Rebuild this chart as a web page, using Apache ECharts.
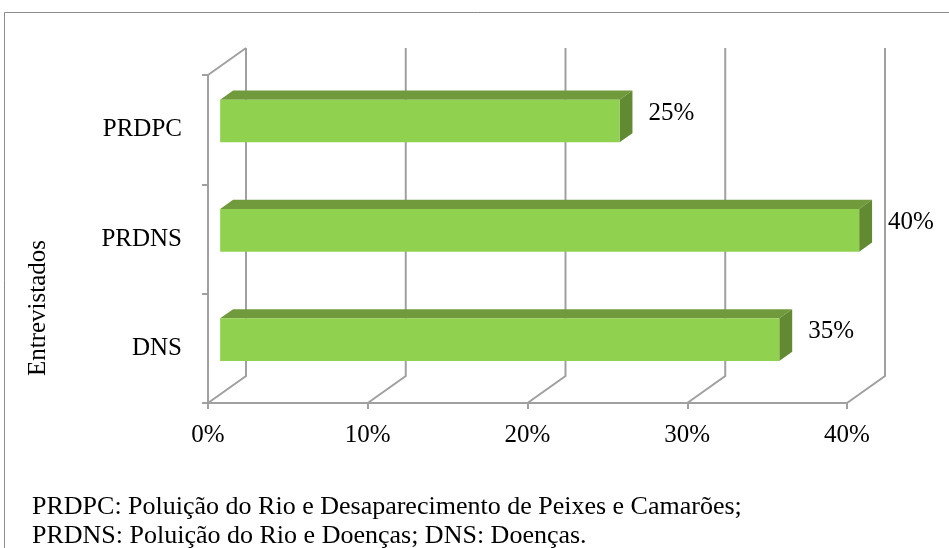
<!DOCTYPE html>
<html>
<head>
<meta charset="utf-8">
<script src="https://cdn.jsdelivr.net/npm/echarts/dist/echarts.min.js"></script>
<style>
  html, body { margin: 0; padding: 0; background: #fff; }
  #main { width: 949px; height: 548px; }
</style>
</head>
<body>
<div id="main"></div>
<script>
// dados
const categories = ['DNS', 'PRDNS', 'PRDPC'];
const values = [35, 40, 25];
const xTicks = [0, 10, 20, 30, 40];
const footLines = [
  'PRDPC: Poluição do Rio e Desaparecimento de Peixes e Camarões;',
  'PRDNS: Poluição do Rio e Doenças; DNS: Doenças.'
];

const FONT = '"Liberation Serif", "Times New Roman", serif';
const GRID_COLOR = '#a0a0a0';
// profundidade do "3D" (px)
const DX = 38, DY = -27;
const F1 = 0.32, F2 = 0.66; // frente / fundo das barras

const chart = echarts.init(document.getElementById('main'));

const option = {
  animation: false,
  backgroundColor: '#fff',
  grid: { left: 208, right: 102, top: 75, bottom: 145 },
  xAxis: {
    type: 'value',
    min: 0,
    max: 40,
    interval: 10,
    axisLine: { show: true, lineStyle: { color: GRID_COLOR, width: 2 } },
    axisTick: { show: true, length: 6, lineStyle: { color: GRID_COLOR, width: 2 } },
    splitLine: { show: false },
    axisLabel: {
      formatter: '{value}%',
      color: '#000',
      fontFamily: FONT,
      fontSize: 25,
      margin: 20
    }
  },
  yAxis: {
    type: 'category',
    data: categories,
    axisLine: { show: true, lineStyle: { color: GRID_COLOR, width: 2 } },
    axisTick: { show: true, length: 6, lineStyle: { color: GRID_COLOR, width: 2 } },
    axisLabel: {
      color: '#000',
      fontFamily: FONT,
      fontSize: 25,
      margin: 26,
      padding: [5, 0, 0, 0]
    }
  },
  graphic: [
    {
      type: 'rect',
      shape: { x: 4.5, y: 12.5, width: 1000, height: 1000 },
      style: { fill: null, stroke: '#8c8c8c', lineWidth: 1 },
      silent: true
    },
    {
      type: 'text',
      x: 38,
      y: 308,
      rotation: Math.PI / 2,
      style: {
        text: 'Entrevistados',
        fill: '#000',
        font: '25px ' + FONT,
        align: 'center',
        verticalAlign: 'middle'
      }
    },
    {
      type: 'text',
      x: 32,
      y: 507,
      style: { text: footLines[0], fill: '#000', font: '26px ' + FONT, verticalAlign: 'middle' }
    },
    {
      type: 'text',
      x: 32,
      y: 536,
      style: { text: footLines[1], fill: '#000', font: '26px ' + FONT, verticalAlign: 'middle' }
    }
  ],
  series: [
    {
      // paredes e linhas de grade 3D
      type: 'custom',
      z: 1,
      silent: true,
      data: xTicks.map(v => [v, 0]),
      renderItem: function (params, api) {
        const cs = params.coordSys;
        const v = api.value(0);
        const x = api.coord([v, 0])[0];
        const yb = cs.y + cs.height;
        const yt = cs.y;
        const st = { stroke: GRID_COLOR, lineWidth: 2, fill: 'none' };
        const children = [{
          type: 'polyline',
          shape: { points: [[x, yb], [x + DX, yb + DY], [x + DX, yt + DY]] },
          style: st
        }];
        if (v === xTicks[0]) {
          children.push({
            type: 'line',
            shape: { x1: x, y1: yt, x2: x + DX, y2: yt + DY },
            style: st
          });
        }
        return { type: 'group', children: children };
      }
    },
    {
      // barras 3D
      type: 'custom',
      z: 3,
      data: values.map((v, i) => [v, i]),
      renderItem: function (params, api) {
        const val = api.value(0);
        const cat = api.value(1);
        const s = api.coord([0, cat]);
        const e = api.coord([val, cat]);
        const band = api.size([0, 1])[1];
        const h = band * 0.39;
        const x0 = s[0] + DX * F1;
        const x1 = e[0] + DX * F1;
        const yc = s[1] + DY * F1;
        const top = yc - h / 2;
        const bot = yc + h / 2;
        const ddx = DX * (F2 - F1);
        const ddy = DY * (F2 - F1);
        return {
          type: 'group',
          children: [
            {
              type: 'polygon',
              shape: { points: [[x0, top], [x1, top], [x1 + ddx, top + ddy], [x0 + ddx, top + ddy]] },
              style: { fill: '#709a3c' }
            },
            {
              type: 'polygon',
              shape: { points: [[x1, top], [x1 + ddx, top + ddy], [x1 + ddx, bot + ddy], [x1, bot]] },
              style: { fill: '#628a32' }
            },
            {
              type: 'rect',
              shape: { x: x0, y: top, width: x1 - x0, height: h },
              style: { fill: '#90d14f' }
            },
            {
              type: 'text',
              x: x1 + ddx + 16,
              y: yc - 8,
              style: {
                text: val + '%',
                fill: '#000',
                font: '25px ' + FONT,
                align: 'left',
                verticalAlign: 'middle'
              }
            }
          ]
        };
      }
    }
  ]
};

chart.setOption(option);
</script>
</body>
</html>
